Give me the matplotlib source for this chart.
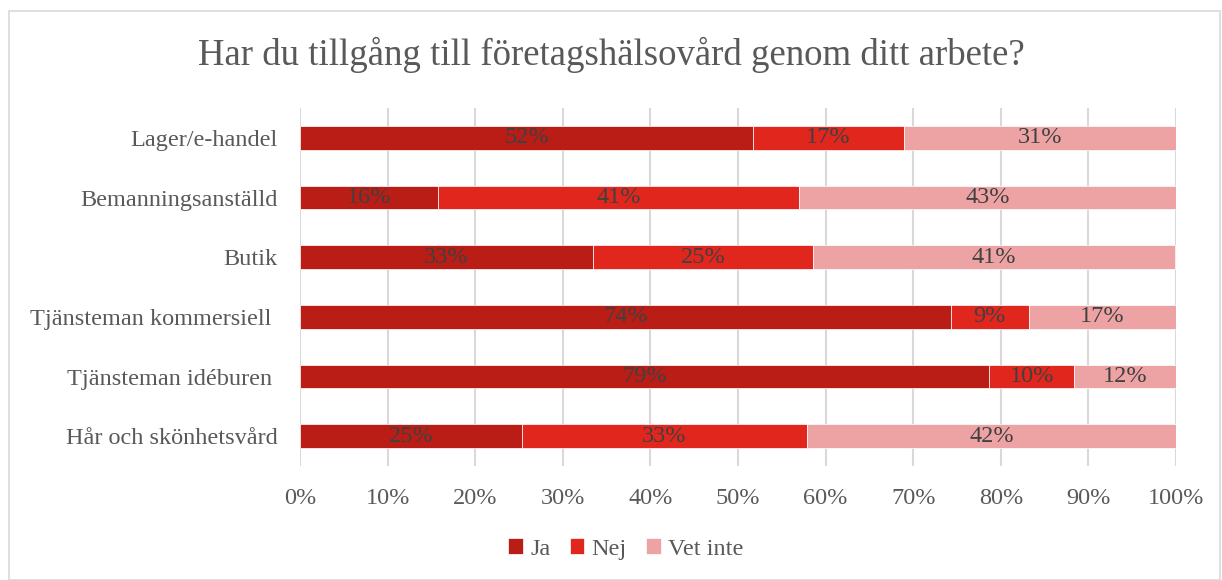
"""Stacked share of answers: access to occupational health care, by sector"""

import matplotlib.pyplot as plt
from matplotlib.patches import Rectangle
from matplotlib.ticker import PercentFormatter

# data (percent)
categories = [
    "Lager/e-handel",
    "Bemanningsanställd",
    "Butik",
    "Tjänsteman kommersiell ",
    "Tjänsteman idéburen ",
    "Hår och skönhetsvård",
]
ja = [51.7, 15.8, 33.4, 74.3, 78.7, 25.3]
nej = [17.2, 41.2, 25.2, 8.9, 9.7, 32.6]
vet_inte = [31.1, 43.0, 41.3, 16.8, 11.6, 42.1]
series_names = ["Ja", "Nej", "Vet inte"]
series_colors = ["#BA1C16", "#E0261D", "#EDA3A3"]

FONT = ["Liberation Serif", "DejaVu Serif"]
TEXT = "#595959"
plt.rcParams["font.family"] = FONT

fig = plt.figure(figsize=(12.22, 5.8), dpi=100)
ax = fig.add_axes([300 / 1222, 1 - 466 / 580, 876 / 1222, 358 / 580])

# chart border
fig.patches.append(
    Rectangle((9 / 1222, 0), 1211 / 1222, 1 - 11 / 580, transform=fig.transFigure,
              fill=False, edgecolor="#D9D9D9", linewidth=1.2)
)

ypos = list(range(len(categories)))
left = [0.0] * len(categories)
for name, vals, col in zip(series_names, [ja, nej, vet_inte], series_colors):
    bars = ax.barh(ypos, vals, left=left, height=0.4, color=col, label=name,
                   edgecolor="white", linewidth=0.5, zorder=3)
    ax.bar_label(bars, labels=[f"{v:.0f}%" for v in vals], label_type="center",
                 color="#404040", fontsize=17.5)
    left = [a + b for a, b in zip(left, vals)]

ax.set_xlim(0, 100)
ax.set_ylim(len(categories) - 0.5, -0.5)
ax.set_yticks(ypos)
ax.set_yticklabels(categories, fontsize=17.5, color=TEXT)
ax.set_xticks(range(0, 101, 10))
ax.xaxis.set_major_formatter(PercentFormatter(decimals=0))
ax.tick_params(axis="x", labelsize=17.5, labelcolor=TEXT, length=0, pad=16)
ax.tick_params(axis="y", length=0, pad=16)
ax.grid(axis="x", color="#D9D9D9", linewidth=1.5, zorder=0)
for spine in ax.spines.values():
    spine.set_visible(False)

fig.text(0.5, 1 - 55 / 580, "Har du tillgång till företagshälsovård genom ditt arbete?",
         ha="center", va="center", fontsize=26.5, color=TEXT)

fig.legend(*ax.get_legend_handles_labels(), loc="center",
           bbox_to_anchor=(626 / 1222, 1 - 549 / 580), ncol=3, frameon=False,
           fontsize=17.5, labelcolor=TEXT, handlelength=0.6, handleheight=0.6,
           handletextpad=0.3, columnspacing=0.8)

fig.savefig("out.png", dpi=100)
